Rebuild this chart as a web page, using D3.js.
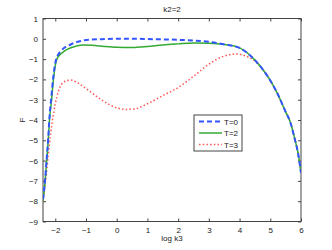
<!DOCTYPE html>
<html>
<head>
<meta charset="utf-8">
<script src="https://cdn.jsdelivr.net/npm/d3@7"></script>
<style>
  body { margin:0; background:#fff; }
  text { font-family: "Liberation Sans", Arial, sans-serif; fill:#222; }
</style>
</head>
<body>
<div id="plot"></div>
<script>
// data
var xTicks = [-2, -1, 0, 1, 2, 3, 4, 5, 6];
var yTicks = [1, 0, -1, -2, -3, -4, -5, -6, -7, -8, -9];

var t0x = [-2.4, -2.33, -2.28, -2.23, -2.19, -2.13, -2.07, -1.97, -1.8, -1.5, -1.2, -1.0, -0.5, 0, 0.5, 1, 1.5, 2, 2.5, 3, 3.5, 4, 4.5, 4.75, 5, 5.25, 5.5, 5.65, 5.8, 5.9, 6];
var t0y = [-7.9, -6.9, -5.9, -4.9, -3.9, -2.9, -1.95, -1.0, -0.58, -0.28, -0.12, -0.06, -0.02, 0, 0, -0.01, -0.03, -0.05, -0.09, -0.15, -0.27, -0.45, -1.05, -1.5, -2.05, -2.75, -3.6, -4.1, -4.95, -5.6, -6.6];

var t2x = [-2.4, -2.33, -2.28, -2.23, -2.19, -2.12, -2.06, -1.95, -1.8, -1.63, -1.3, -1.1, -0.8, -0.4, 0, 0.5, 1, 1.5, 2, 2.5, 3, 3.5, 4, 4.5, 4.75, 5, 5.25, 5.5, 5.65, 5.8, 5.9, 6];
var t2y = [-8.0, -7.0, -6.0, -5.0, -4.0, -3.0, -2.0, -1.0, -0.72, -0.53, -0.35, -0.3, -0.32, -0.38, -0.42, -0.43, -0.38, -0.3, -0.25, -0.21, -0.22, -0.28, -0.45, -1.05, -1.5, -2.05, -2.75, -3.6, -4.1, -4.95, -5.6, -6.6];

var t3x = [-2.4, -2.3, -2.2, -2.1, -2.0, -1.9, -1.8, -1.6, -1.5, -1.3, -1.0, -0.5, 0, 0.3, 0.6, 1, 1.5, 2, 2.5, 3, 3.5, 3.9, 4.2, 4.5, 4.75, 5, 5.25, 5.5, 5.65, 5.8, 5.9, 6];
var t3y = [-8.0, -6.8, -5.3, -4.1, -3.2, -2.6, -2.25, -2.05, -2.03, -2.15, -2.45, -3.0, -3.4, -3.48, -3.45, -3.2, -2.8, -2.4, -1.85, -1.25, -0.85, -0.75, -0.85, -1.1, -1.5, -2.05, -2.75, -3.6, -4.1, -4.95, -5.6, -6.6];

var seriesNames = ['T=0', 'T=2', 'T=3'];
var seriesColors = ['#3355ff', '#33aa33', '#ff5555'];
var seriesDash = ['5,3', null, '1.5,2.2'];
var seriesWidth = [2, 1.5, 1.5];

var W = 332, H = 250;
var margin = {t:18.5, r:31, b:28.5, l:43};
var width = W - margin.l - margin.r,
	height = H - margin.t - margin.b;

var svg = d3.select('#plot')
	.append('svg')
	.attr('width', W)
	.attr('height', H);

var plot = svg.append('g')
	.attr('transform', 'translate(' + margin.l + ',' + margin.t + ')');

var x = d3.scaleLinear().domain([-2.4, 6]).range([0, width]);
var y = d3.scaleLinear().domain([-9, 1]).range([height, 0]);

//axes, ticks pointing inward, mirrored on top and right
function styleAxis(g) {
	g.selectAll('.domain').remove();
	g.selectAll('line').attr('stroke', '#444');
	g.selectAll('text').style('font-size', '8px').attr('fill', '#222');
}
plot.append('g').attr('transform', 'translate(0,' + height + ')')
	.call(d3.axisBottom(x).tickValues(xTicks).tickSizeInner(-3).tickSizeOuter(0).tickPadding(6).tickFormat(d3.format('d')))
	.call(styleAxis);
plot.append('g')
	.call(d3.axisTop(x).tickValues(xTicks).tickSizeInner(-3).tickSizeOuter(0).tickFormat(''))
	.call(styleAxis);
plot.append('g')
	.call(d3.axisLeft(y).tickValues(yTicks).tickSizeInner(-3).tickSizeOuter(0).tickPadding(5).tickFormat(function(d){ return d < 0 ? '\u2212' + (-d) : d; }))
	.call(styleAxis);
plot.append('g').attr('transform', 'translate(' + width + ',0)')
	.call(d3.axisRight(y).tickValues(yTicks).tickSizeInner(-3).tickSizeOuter(0).tickFormat(''))
	.call(styleAxis);

plot.append('rect')
	.attr('width', width).attr('height', height)
	.attr('fill', 'none').attr('stroke', '#444').attr('stroke-width', 1);

//lines
var line = d3.line()
	.x(function(d){ return x(d[0]); })
	.y(function(d){ return y(d[1]); })
	.curve(d3.curveMonotoneX);

var allX = [t0x, t2x, t3x], allY = [t0y, t2y, t3y];
var clip = svg.append('clipPath').attr('id', 'clip').append('rect')
	.attr('width', width).attr('height', height);

[2, 1, 0].forEach(function(i){
	var pts = allX[i].map(function(v, j){ return [v, allY[i][j]]; });
	plot.append('path')
		.attr('d', line(pts))
		.attr('fill', 'none')
		.attr('clip-path', 'url(#clip)')
		.attr('stroke', seriesColors[i])
		.attr('stroke-width', seriesWidth[i])
		.attr('stroke-dasharray', seriesDash[i]);
});

//legend
var lg = plot.append('g').attr('transform', 'translate(' + (194 - margin.l) + ',' + (115 - margin.t) + ')');
lg.append('rect').attr('width', 48).attr('height', 36)
	.attr('fill', '#fff').attr('stroke', '#444').attr('stroke-width', 1);
seriesNames.forEach(function(name, i){
	var yy = 6.5 + i * 11.5;
	lg.append('line')
		.attr('x1', 5).attr('x2', 28).attr('y1', yy).attr('y2', yy)
		.attr('stroke', seriesColors[i])
		.attr('stroke-width', seriesWidth[i])
		.attr('stroke-dasharray', seriesDash[i]);
	lg.append('text').attr('x', 30).attr('y', yy + 3)
		.style('font-size', '8px').text(name);
});

//labels
svg.append('text').attr('x', margin.l + width / 2).attr('y', 12)
	.attr('text-anchor', 'middle').style('font-size', '8px').text('k2=2');
svg.append('text').attr('x', margin.l + width / 2).attr('y', 241)
	.attr('text-anchor', 'middle').style('font-size', '8px').text('log k3');
svg.append('text').attr('transform', 'translate(25,' + (margin.t + height / 2) + ') rotate(-90)')
	.attr('text-anchor', 'middle').style('font-size', '8px').text('F');
</script>
</body>
</html>
